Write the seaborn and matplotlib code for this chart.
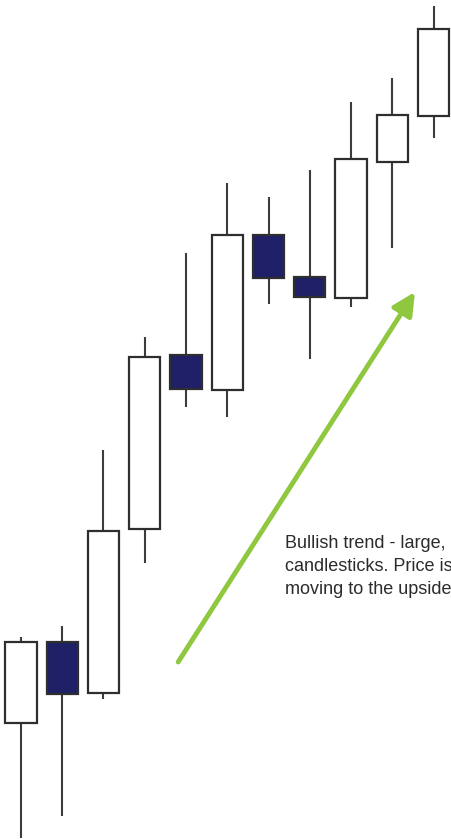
import numpy as np
import matplotlib.pyplot as plt
import seaborn as sns

# OHLC values (arbitrary price units)
opens = [11.6, 19.7, 14.6, 31.0, 48.4, 44.9, 60.4, 56.2, 54.1, 67.7, 72.3]
highs = [20.2, 21.3, 38.9, 50.2, 58.6, 65.6, 64.2, 66.9, 73.7, 76.1, 83.3]
lows = [0.1, 2.3, 14.0, 27.6, 43.2, 42.2, 53.5, 48.0, 53.2, 59.1, 70.1]
closes = [19.7, 14.5, 30.8, 48.2, 45.0, 60.4, 56.1, 54.2, 68.0, 72.4, 81.0]

note_lines = ["Bullish trend - large,",
              "candlesticks. Price is",
              "moving to the upside"]

sns.set_style("white")

fig = plt.figure(figsize=(4.51, 8.39), dpi=100)
ax = fig.add_axes([0, 0, 1, 1])

x = np.arange(len(opens))
o = np.array(opens)
c = np.array(closes)
bottoms = np.minimum(o, c)
heights = np.abs(c - o)
colors = ["white" if cl >= op else "#1f2068" for op, cl in zip(o, c)]

# wicks
ax.vlines(x, lows, highs, color="#3c3c3c", linewidth=1.5, zorder=1)
# bodies
ax.bar(x, heights, bottom=bottoms, width=0.76, color=colors,
       edgecolor="#2e2e2e", linewidth=1.6, zorder=2)

# trend arrow
ax.annotate("", xy=(9.55, 54.7), xytext=(3.81, 17.7),
            arrowprops=dict(arrowstyle="-|>", color="#8fc73e", lw=3.5,
                            mutation_scale=34, shrinkA=0, shrinkB=0))

# note, one line per text, placed on its baseline
for i, line in enumerate(note_lines):
    ax.text(6.4, 29.1 - 2.3 * i, line, ha="left", va="baseline",
            fontsize=13, color="#2b2b2b",
            family=["Liberation Sans", "DejaVu Sans"])

ax.set_xlim(-0.509, 10.424)
ax.set_ylim(0, 83.9)
ax.axis("off")

fig.savefig("out.png", dpi=100, facecolor="white")
